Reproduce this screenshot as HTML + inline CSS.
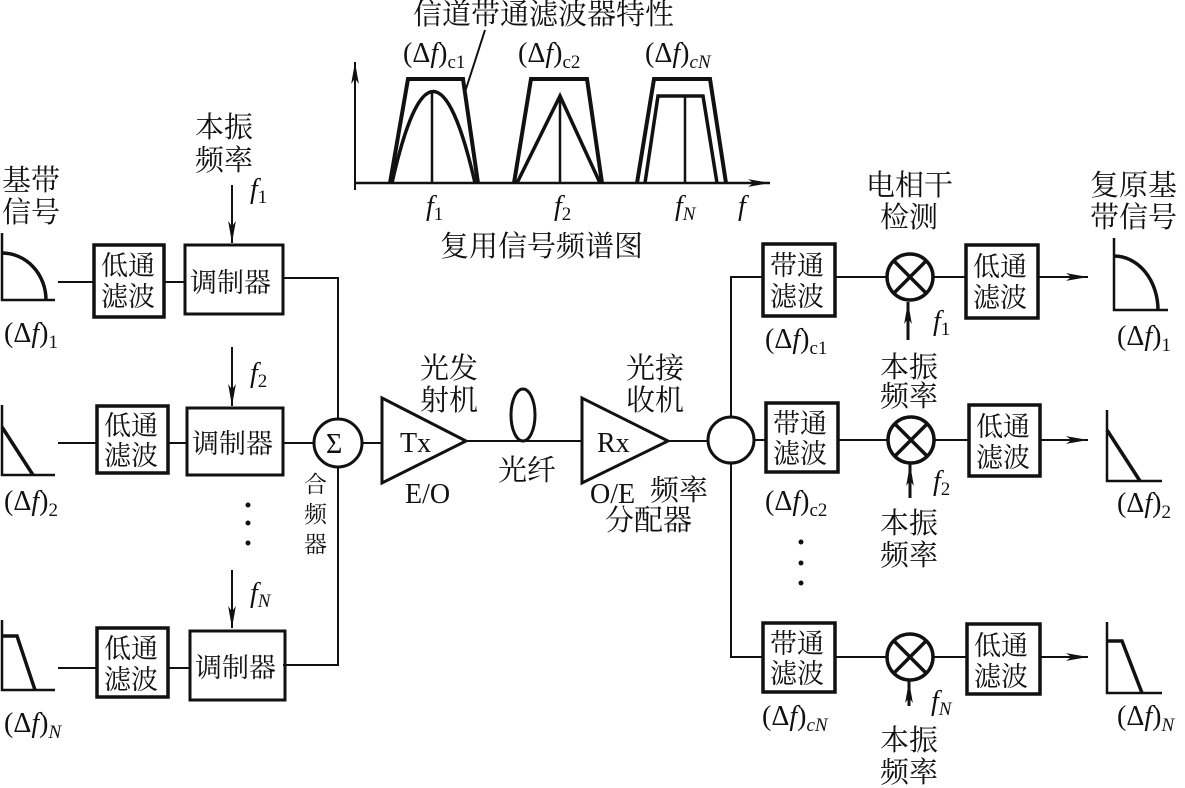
<!DOCTYPE html>
<html><head><meta charset="utf-8"><style>
html,body{margin:0;padding:0;background:#fff}
svg{display:block}
.c{font-family:"Liberation Serif","Noto Serif CJK SC",serif;font-size:29px;fill:#111}
.b{font-family:"Liberation Serif","Noto Serif CJK SC",serif;font-size:27px;fill:#111}
.l{font-family:"Liberation Serif",serif;font-size:28px;fill:#111}
.s{font-size:19px}
.i{font-style:italic}
</style></head><body>
<svg width="1185" height="788" viewBox="0 0 1185 788" xmlns="http://www.w3.org/2000/svg">
<defs>
<marker id="ah2" viewBox="0 0 20 10" refX="20" refY="5" markerWidth="22" markerHeight="11" orient="auto" markerUnits="userSpaceOnUse" preserveAspectRatio="none"><path d="M0,1.5 L20,5 L0,8.5 L5,5 z" fill="#111"/></marker>
</defs>
<g stroke="#111" fill="none">
<!-- top spectrum -->
<line x1="355" y1="190" x2="355" y2="62" stroke-width="2" marker-end="url(#ah2)"/>
<line x1="355" y1="183" x2="770" y2="183" stroke-width="2.5" marker-end="url(#ah2)"/>
<polyline points="390,183 408,79 463,79 478,183" stroke-width="4"/>
<path d="M392,183 Q433,0 475,183" stroke-width="3.5"/>
<line x1="432" y1="90" x2="432" y2="183" stroke-width="2.5"/>
<line x1="485" y1="30" x2="465" y2="92" stroke-width="2"/>
<polyline points="514,183 531,79 587,79 602,183" stroke-width="4"/>
<polyline points="517,183 560,96 600,183" stroke-width="3.5"/>
<line x1="560" y1="96" x2="560" y2="183" stroke-width="2.5"/>
<polyline points="637,183 654,79 710,79 726,183" stroke-width="4"/>
<polyline points="645,183 658,96 703,96 717,183" stroke-width="3.5"/>
<line x1="685" y1="96" x2="685" y2="183" stroke-width="2.5"/>

<!-- left spectra -->
<polyline points="2,233 2,300 55,300" stroke-width="2.5"/>
<path d="M2,253 A44,47 0 0 1 46,300" stroke-width="3.5"/>
<polyline points="2,405 2,475 55,475" stroke-width="2.5"/>
<line x1="2" y1="427" x2="33" y2="475" stroke-width="3.5"/>
<polyline points="2,620 2,690 55,690" stroke-width="2.5"/>
<polyline points="2,636 17,636 35,690" stroke-width="3.5"/>

<!-- left rows -->
<g stroke-width="2">
<line x1="58" y1="282" x2="93" y2="282"/><line x1="165" y1="282" x2="184" y2="282"/>
<polyline points="283,278 338,278 338,419"/>
<line x1="58" y1="443" x2="96" y2="443"/><line x1="168" y1="443" x2="186" y2="443"/><line x1="283" y1="443" x2="314" y2="443"/>
<line x1="58" y1="668" x2="96" y2="668"/><line x1="168" y1="668" x2="190" y2="668"/>
<polyline points="283,665 338,665 338,467"/>
<line x1="232" y1="185" x2="232" y2="243" marker-end="url(#ah2)"/>
<line x1="232" y1="347" x2="232" y2="406" marker-end="url(#ah2)"/>
<line x1="232" y1="570" x2="232" y2="628" marker-end="url(#ah2)"/>
</g>
<rect x="94" y="245" width="70" height="72" stroke-width="3.5"/>
<rect x="185" y="245" width="98" height="69" stroke-width="3"/>
<rect x="97" y="406" width="71" height="67" stroke-width="3.5"/>
<rect x="187" y="408" width="96" height="67" stroke-width="3"/>
<rect x="97" y="628" width="71" height="69" stroke-width="3.5"/>
<rect x="190" y="631" width="95" height="69" stroke-width="3"/>
<circle cx="338" cy="443" r="24" stroke-width="3"/>

<!-- center -->
<line x1="362" y1="443" x2="382" y2="443" stroke-width="2"/>
<polygon points="382,398 382,483 466,441" stroke-width="3"/>
<line x1="466" y1="441" x2="582" y2="441" stroke-width="2"/>
<ellipse cx="523" cy="415" rx="12" ry="26" stroke-width="3"/>
<polygon points="582,398 582,483 668,441" stroke-width="3"/>
<line x1="668" y1="441" x2="708" y2="441" stroke-width="2"/>
<circle cx="731" cy="440" r="23" stroke-width="3"/>

<!-- right -->
<g stroke-width="2">
<polyline points="762,277 731,277 731,417"/>
<polyline points="731,463 731,657 762,657"/>
<line x1="754" y1="440" x2="765" y2="440"/>
<line x1="835" y1="277" x2="887" y2="277"/><line x1="933" y1="277" x2="966" y2="277"/>
<line x1="838" y1="440" x2="888" y2="440"/><line x1="934" y1="440" x2="968" y2="440"/>
<line x1="836" y1="657" x2="887" y2="657"/><line x1="933" y1="657" x2="966" y2="657"/>
<line x1="1038" y1="277" x2="1088" y2="277" marker-end="url(#ah2)"/>
<line x1="1040" y1="440" x2="1088" y2="440" marker-end="url(#ah2)"/>
<line x1="1040" y1="657" x2="1088" y2="657" marker-end="url(#ah2)"/>
<line x1="908" y1="340" x2="908" y2="302" stroke-width="3" marker-end="url(#ah2)"/>
<line x1="910" y1="498" x2="910" y2="464" stroke-width="3" marker-end="url(#ah2)"/>
<line x1="909" y1="706" x2="909" y2="681" stroke-width="3" marker-end="url(#ah2)"/>
</g>
<rect x="763" y="244" width="72" height="72" stroke-width="3.5"/>
<rect x="766" y="403" width="72" height="69" stroke-width="3.5"/>
<rect x="763" y="623" width="72" height="69" stroke-width="3.5"/>
<rect x="966" y="245" width="72" height="73" stroke-width="3.5"/>
<rect x="969" y="405" width="71" height="71" stroke-width="3.5"/>
<rect x="967" y="624" width="73" height="70" stroke-width="3.5"/>
<g stroke-width="3.5">
<circle cx="910" cy="277" r="23"/><path d="M894,261 L926,293 M926,261 L894,293"/>
<circle cx="911" cy="440" r="23"/><path d="M895,424 L927,456 M927,424 L895,456"/>
<circle cx="910" cy="657" r="23"/><path d="M894,641 L926,673 M926,641 L894,673"/>
</g>
<polyline points="1114,238 1114,310 1168,310" stroke-width="2.5"/>
<path d="M1114,256 A44,54 0 0 1 1158,310" stroke-width="3.5"/>
<polyline points="1107,410 1107,481 1162,481" stroke-width="2.5"/>
<line x1="1107" y1="430" x2="1140" y2="481" stroke-width="3.5"/>
<polyline points="1107,622 1107,693 1162,693" stroke-width="2.5"/>
<polyline points="1107,641 1122,641 1142,693" stroke-width="3.5"/>
</g>
<!-- dots -->
<g fill="#111">
<circle cx="248" cy="505" r="2.5"/><circle cx="248" cy="523" r="2.5"/><circle cx="248" cy="543" r="2.5"/>
<circle cx="801" cy="542" r="2.5"/><circle cx="801" cy="563" r="2.5"/><circle cx="801" cy="583" r="2.5"/>
</g>

<!-- texts -->
<text class="c" x="413" y="24">信道带通滤波器特性</text>
<text class="l" x="403" y="62">(Δ<tspan class="i">f</tspan>)<tspan class="s" dy="6">c1</tspan></text>
<text class="l" x="518" y="62">(Δ<tspan class="i">f</tspan>)<tspan class="s" dy="6">c2</tspan></text>
<text class="l" x="645" y="62">(Δ<tspan class="i">f</tspan>)<tspan class="s" dy="6" font-style="italic">cN</tspan></text>
<text class="l" x="426" y="215"><tspan class="i">f</tspan><tspan class="s" dy="5">1</tspan></text>
<text class="l" x="554" y="215"><tspan class="i">f</tspan><tspan class="s" dy="5">2</tspan></text>
<text class="l" x="675" y="215"><tspan class="i">f</tspan><tspan class="s i" dy="5">N</tspan></text>
<text class="l i" x="738" y="215">f</text>
<text class="c" x="440" y="256">复用信号频谱图</text>

<text class="c" x="2" y="190">基带</text>
<text class="c" x="2" y="222">信号</text>
<text class="c" x="195" y="137">本振</text>
<text class="c" x="195" y="170">频率</text>
<text class="l" x="250" y="198"><tspan class="i">f</tspan><tspan class="s" dy="5">1</tspan></text>
<text class="l" x="250" y="382"><tspan class="i">f</tspan><tspan class="s" dy="5">2</tspan></text>
<text class="l" x="250" y="602"><tspan class="i">f</tspan><tspan class="s i" dy="5">N</tspan></text>
<text class="l" x="4" y="342">(Δ<tspan class="i">f</tspan>)<tspan class="s" dy="6">1</tspan></text>
<text class="l" x="4" y="510">(Δ<tspan class="i">f</tspan>)<tspan class="s" dy="6">2</tspan></text>
<text class="l" x="4" y="732">(Δ<tspan class="i">f</tspan>)<tspan class="s i" dy="6">N</tspan></text>

<g class="b">
<text x="101" y="275">低通</text><text x="101" y="306">滤波</text>
<text x="104" y="435">低通</text><text x="104" y="465">滤波</text>
<text x="104" y="658">低通</text><text x="104" y="689">滤波</text>
<text x="190" y="292">调制器</text>
<text x="192" y="453">调制器</text>
<text x="195" y="677">调制器</text>
<text x="770" y="275">带通</text><text x="770" y="306">滤波</text>
<text x="773" y="433">带通</text><text x="773" y="463">滤波</text>
<text x="770" y="653">带通</text><text x="770" y="683">滤波</text>
<text x="973" y="276">低通</text><text x="973" y="307">滤波</text>
<text x="976" y="436">低通</text><text x="976" y="467">滤波</text>
<text x="974" y="655">低通</text><text x="974" y="686">滤波</text>
</g>
<text class="l" x="326" y="453" font-size="26">Σ</text>
<text x="304" y="492" style="font-family:'Noto Serif CJK SC',serif;font-size:23px" fill="#111">合</text>
<text x="304" y="522" style="font-family:'Noto Serif CJK SC',serif;font-size:23px" fill="#111">频</text>
<text x="304" y="552" style="font-family:'Noto Serif CJK SC',serif;font-size:23px" fill="#111">器</text>

<text class="l" x="400" y="452">Tx</text>
<text class="l" x="405" y="503">E/O</text>
<text class="c" x="420" y="378">光发</text>
<text class="c" x="420" y="410">射机</text>
<text class="c" x="498" y="480">光纤</text>
<text class="l" x="597" y="452">Rx</text>
<text class="l" x="590" y="503">O/E</text>
<text class="c" x="626" y="378">光接</text>
<text class="c" x="626" y="410">收机</text>
<text class="c" x="650" y="500">频率</text>
<text class="c" x="605" y="530">分配器</text>

<text class="c" x="866" y="195">电相干</text>
<text class="c" x="880" y="227">检测</text>
<text class="c" x="1090" y="195">复原基</text>
<text class="c" x="1090" y="227">带信号</text>
<text class="l" x="765" y="348">(Δ<tspan class="i">f</tspan>)<tspan class="s" dy="6">c1</tspan></text>
<text class="l" x="765" y="510">(Δ<tspan class="i">f</tspan>)<tspan class="s" dy="6">c2</tspan></text>
<text class="l" x="762" y="725">(Δ<tspan class="i">f</tspan>)<tspan class="s i" dy="6">cN</tspan></text>
<text class="l" x="1117" y="345">(Δ<tspan class="i">f</tspan>)<tspan class="s" dy="6">1</tspan></text>
<text class="l" x="1117" y="512">(Δ<tspan class="i">f</tspan>)<tspan class="s" dy="6">2</tspan></text>
<text class="l" x="1117" y="725">(Δ<tspan class="i">f</tspan>)<tspan class="s i" dy="6">N</tspan></text>
<text class="l" x="933" y="330"><tspan class="i">f</tspan><tspan class="s" dy="5">1</tspan></text>
<text class="l" x="933" y="490"><tspan class="i">f</tspan><tspan class="s" dy="5">2</tspan></text>
<text class="l" x="931" y="710"><tspan class="i">f</tspan><tspan class="s i" dy="5">N</tspan></text>
<text class="c" x="880" y="377">本振</text><text class="c" x="880" y="406">频率</text>
<text class="c" x="880" y="533">本振</text><text class="c" x="880" y="565">频率</text>
<text class="c" x="880" y="750">本振</text><text class="c" x="880" y="782">频率</text>
</svg>
</body></html>
